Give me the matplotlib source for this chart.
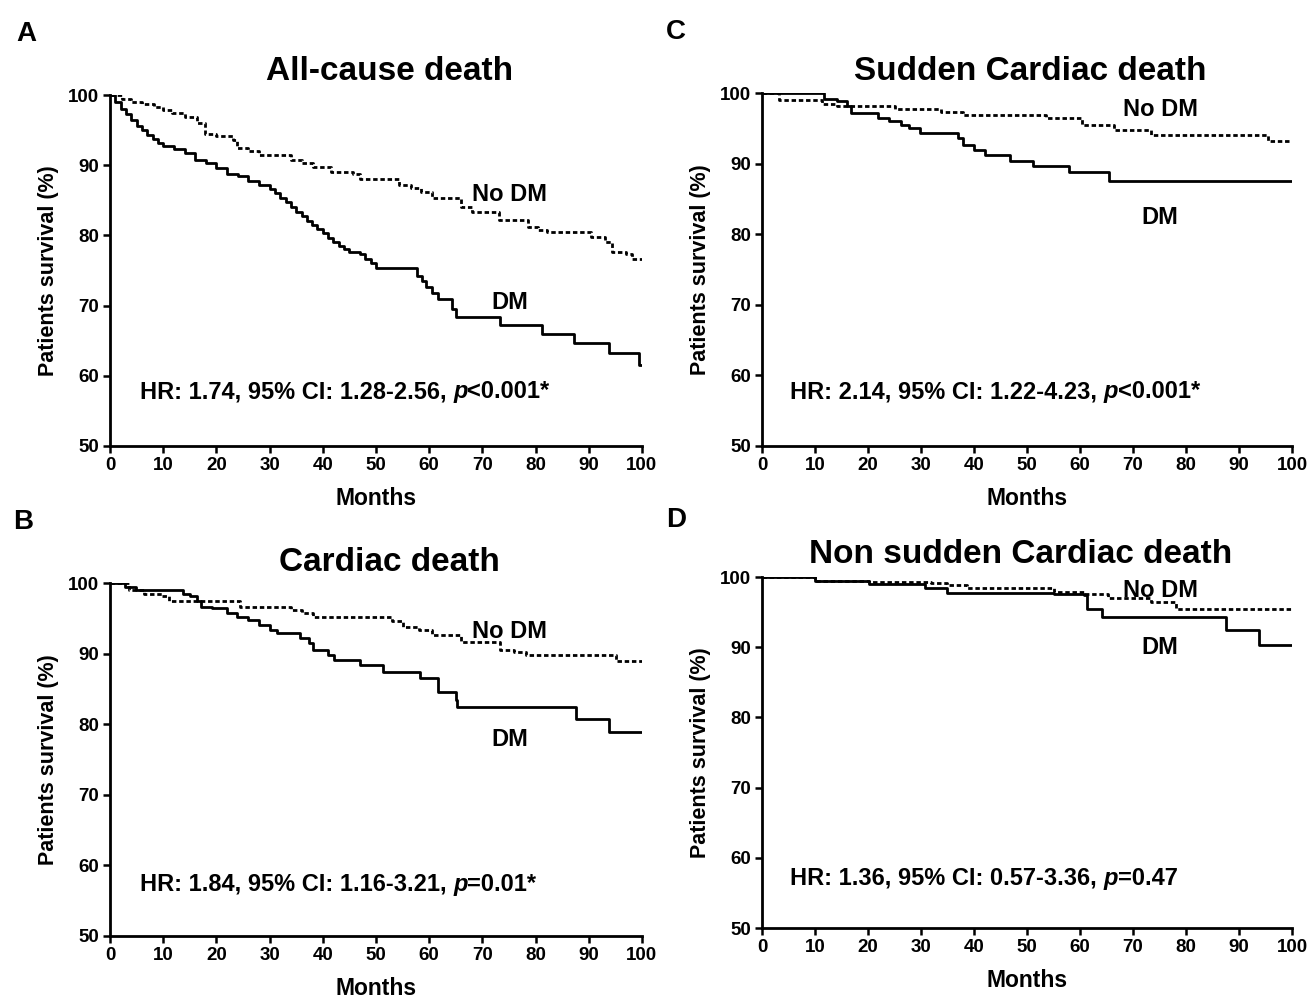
import numpy as np
import matplotlib
matplotlib.use("Agg")
import matplotlib.pyplot as plt

plt.rcParams["font.family"] = ["Liberation Sans", "DejaVu Sans"]
plt.rcParams["font.weight"] = "bold"

# Kaplan-Meier steps: (month, survival %) after each step
a_dm_t = [0, 1, 2, 3, 4, 5, 6, 7, 8, 9, 10, 12, 14, 16, 18, 20, 22, 24, 26, 28, 30, 31, 32,
          33, 34, 35, 36, 37, 38, 39, 40, 41, 42, 43, 44, 45, 47, 48, 49, 50, 57.8, 58.6,
          59.5, 60.5, 61.6, 64.3, 65.0, 73.4, 81.2, 87.3, 93.8, 99.5, 100]
a_dm_s = [100, 99, 98, 97.3, 96.5, 95.6, 95, 94.3, 93.8, 93.2, 92.8, 92.3, 91.7, 90.8, 90.3,
          89.6, 88.8, 88.5, 87.8, 87.2, 86.6, 86.0, 85.3, 84.8, 84.0, 83.3, 82.7, 82.1, 81.5,
          80.9, 80.3, 79.6, 79.0, 78.5, 78.0, 77.6, 77.3, 76.6, 76.0, 75.3, 74.2, 73.5, 72.6,
          71.8, 71.0, 69.5, 68.4, 67.2, 66.0, 64.6, 63.2, 61.5, 61.5]
a_no_t = [0, 2.2, 4, 6, 8.3, 10, 11.7, 14, 16.4, 17.8, 20, 23.2, 23.9, 26, 28.0, 34.1, 36,
          38.1, 41.5, 45.6, 47.0, 54.4, 56.5, 58.5, 60.6, 66.0, 68.0, 73.1, 78.5, 80.5, 82.2,
          90.4, 93.1, 94.4, 97.1, 98.1, 100]
a_no_s = [100, 99.5, 99.0, 98.7, 98.3, 97.9, 97.4, 96.8, 96.0, 94.5, 94.1, 93.6, 92.4, 92.0,
          91.5, 90.7, 90.3, 89.8, 89.1, 88.8, 88.1, 87.2, 86.7, 86.2, 85.3, 84.1, 83.4, 82.2,
          81.2, 80.8, 80.5, 79.8, 79.1, 77.7, 77.4, 76.7, 76.7]

b_dm_t = [0, 2.9, 4.9, 13.7, 15.1, 16.4, 17.1, 19.1, 21.9, 23.9, 26.0, 28.0, 30.0, 31.4,
          35.8, 37.5, 38.1, 40.9, 42.2, 47.0, 51.4, 58.2, 61.6, 65.0, 65.3, 87.7, 93.8, 100]
b_dm_s = [100, 99.5, 99.0, 98.5, 98.1, 97.4, 96.6, 96.4, 95.7, 95.2, 94.8, 94.1, 93.3, 92.9,
          92.2, 91.5, 90.5, 89.8, 89.1, 88.4, 87.4, 86.5, 84.6, 83.4, 82.5, 80.8, 78.9, 78.9]
b_no_t = [0, 3.6, 6.3, 9.7, 11.0, 24.5, 34.1, 36, 38.1, 53.0, 55.1, 58, 60.6, 66.0, 73.4,
          76, 78.2, 95.1, 100]
b_no_s = [100, 99.0, 98.5, 98.1, 97.4, 96.6, 96.2, 95.7, 95.2, 94.6, 93.8, 93.3, 92.6, 91.7,
          90.5, 90.2, 89.8, 88.9, 88.9]

c_dm_t = [0, 11.7, 14.1, 16.1, 16.8, 21.9, 24.0, 26.3, 27.7, 29.8, 36.9, 38.0, 40.0, 42.0,
          46.8, 51.2, 58.0, 65.5, 100]
c_dm_s = [100, 99.2, 98.8, 98.1, 97.1, 96.5, 96.0, 95.5, 95.0, 94.3, 93.6, 92.6, 91.9, 91.2,
          90.4, 89.6, 88.8, 87.6, 87.6]
c_no_t = [0, 3.2, 11.4, 14.1, 25.0, 33.8, 37.9, 53.6, 60.4, 66.5, 73.3, 95.5, 100]
c_no_s = [100, 99.0, 98.5, 98.1, 97.8, 97.3, 96.9, 96.4, 95.5, 94.8, 94.1, 93.2, 93.2]

d_dm_t = [0, 10, 20.2, 30.8, 34.9, 55.0, 60.8, 61.4, 64.1, 87.6, 93.8, 100]
d_dm_s = [100, 99.5, 99.0, 98.4, 97.8, 97.6, 97.4, 95.5, 94.3, 92.5, 90.3, 90.3]
d_no_t = [0, 10, 20.2, 31.8, 34.9, 38.6, 55.0, 60.8, 65.2, 73.3, 78.1, 100]
d_no_s = [100, 99.5, 99.3, 99.1, 98.9, 98.4, 97.9, 97.6, 97.0, 96.5, 95.5, 95.5]

panels = [
    ("A", "All-cause death", a_dm_t, a_dm_s, a_no_t, a_no_s,
     "HR: 1.74, 95% CI: 1.28-2.56, ", "<0.001*", (75.2, 85.8), (75.2, 70.5)),
    ("B", "Cardiac death", b_dm_t, b_dm_s, b_no_t, b_no_s,
     "HR: 1.84, 95% CI: 1.16-3.21, ", "=0.01*", (75.2, 93.1), (75.2, 77.8)),
    ("C", "Sudden Cardiac death", c_dm_t, c_dm_s, c_no_t, c_no_s,
     "HR: 2.14, 95% CI: 1.22-4.23, ", "<0.001*", (75.1, 97.6), (75.1, 82.3)),
    ("D", "Non sudden Cardiac death", d_dm_t, d_dm_s, d_no_t, d_no_s,
     "HR: 1.36, 95% CI: 0.57-3.36, ", "=0.47", (75.1, 98.1), (75.1, 89.9)),
]

# axes rectangles in figure fraction
rects = {
    "A": [0.084, 0.5527, 0.406, 0.352],
    "B": [0.084, 0.0612, 0.406, 0.354],
    "C": [0.5817, 0.5527, 0.4046, 0.354],
    "D": [0.5817, 0.0692, 0.4046, 0.352],
}
title_pos = {"A": (0.526, 1.066), "B": (0.526, 1.057), "C": (0.506, 1.06), "D": (0.487, 1.063)}
letter_pos = {"A": (0.020, 0.966), "B": (0.018, 0.476), "C": (0.516, 0.968), "D": (0.516, 0.478)}
hr_pos = {"A": (0.056, 0.154), "B": (0.056, 0.147), "C": (0.053, 0.153), "D": (0.053, 0.142)}

fig = plt.figure(figsize=(13.1, 9.97), dpi=100)
hr_fs = 17

for key, title, dm_t, dm_s, no_t, no_s, hr, pval, no_lab, dm_lab in panels:
    ax = fig.add_axes(rects[key])
    ax.step(dm_t, dm_s, where="post", color="black", lw=2.0)
    ax.step(no_t, no_s, where="post", color="black", lw=2.0, linestyle=(0, (1.6, 1.0)))
    ax.set_xlim(0, 100)
    ax.set_ylim(50, 100)
    ax.set_xticks(np.arange(0, 101, 10))
    ax.set_yticks(np.arange(50, 101, 10))
    ax.spines["top"].set_visible(False)
    ax.spines["right"].set_visible(False)
    ax.spines["left"].set_linewidth(2.0)
    ax.spines["bottom"].set_linewidth(2.0)
    ax.tick_params(width=1.8, length=5, labelsize=13.5, pad=3)
    for lab in ax.get_xticklabels() + ax.get_yticklabels():
        lab.set_fontweight("bold")
    ax.set_xlabel("Months", fontsize=16.5, fontweight="bold", labelpad=9)
    ax.set_ylabel("Patients survival (%)", fontsize=15.5, fontweight="bold", labelpad=6)
    ax.text(*title_pos[key], title, transform=ax.transAxes, ha="center", va="center",
            fontsize=24, fontweight="bold")
    ax.text(*no_lab, "No DM", ha="center", va="center", fontsize=17, fontweight="bold")
    ax.text(*dm_lab, "DM", ha="center", va="center", fontsize=17, fontweight="bold")

    # HR line: bold text, italic p, then the p value
    t = ax.text(*hr_pos[key], hr, transform=ax.transAxes, ha="left", va="center",
                fontsize=hr_fs, fontweight="bold")
    fig.canvas.draw()
    bb = t.get_window_extent().transformed(ax.transAxes.inverted())
    t2 = ax.text(bb.x1, hr_pos[key][1], "p", transform=ax.transAxes, ha="left", va="center",
                 fontsize=hr_fs, fontweight="bold", fontstyle="italic")
    fig.canvas.draw()
    bb2 = t2.get_window_extent().transformed(ax.transAxes.inverted())
    ax.text(bb2.x1, hr_pos[key][1], pval, transform=ax.transAxes, ha="left", va="center",
            fontsize=hr_fs, fontweight="bold")
    fig.text(*letter_pos[key], key, ha="center", va="center", fontsize=20, fontweight="bold")

fig.savefig("out.png", dpi=100)
